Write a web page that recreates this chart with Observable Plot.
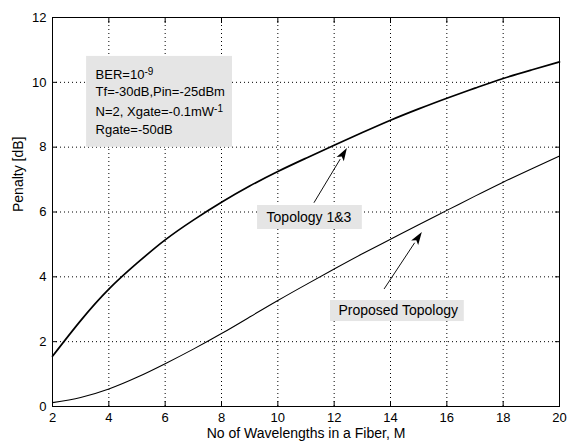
<!DOCTYPE html>
<html><head><meta charset="utf-8">
<script src="https://cdn.jsdelivr.net/npm/d3@7"></script>
<script src="https://cdn.jsdelivr.net/npm/@observablehq/plot@0.6"></script>
<style>
body{margin:0;background:#fff;}
#chart svg{font-family:"Liberation Sans",Arial,Helvetica,sans-serif;background:#fff;}
</style>
</head><body><div id="chart"></div>
<script>
// ---- data ----
const M = [2,3,4,5,6,7,8,9,10,11,12,13,14,15,16,17,18,19,20];
const topology13 = [1.55,2.65,3.62,4.42,5.14,5.75,6.3,6.8,7.25,7.66,8.06,8.45,8.83,9.18,9.51,9.82,10.12,10.38,10.63];
const proposed  = [0.12,0.28,0.54,0.9,1.32,1.77,2.25,2.76,3.27,3.76,4.24,4.71,5.16,5.61,6.05,6.49,6.92,7.33,7.73];
const xTicks = [2,4,6,8,10,12,14,16,18,20];
const yTicks = [0,2,4,6,8,10,12];
const xLabel = "No of Wavelengths in a Fiber, M";
const yLabel = "Penalty [dB]";
const infoLines = ["BER=10^-9","Tf=-30dB,Pin=-25dBm","N=2, Xgate=-0.1mW^-1","Rgate=-50dB"];
const labelNames = ["Topology 1&3","Proposed Topology"];

// ---- annotation placement (data units) ----
const infoBox = {x1:3.21, x2:8.39, y1:8.0, y2:10.8};
const infoX = 3.53;
const infoY = [10.23, 9.71, 9.09, 8.53];
const labelBoxes = [
  {x1:9.28, x2:13.0, y1:5.46, y2:6.2, tx:9.6, ty:5.83},
  {x1:11.87, x2:16.62, y1:2.62, y2:3.27, tx:12.15, ty:2.95}
];
const arrowSpecs = [
  {x1:11.3, y1:6.27, x2:12.47, y2:7.96},
  {x1:13.79, y1:3.61, x2:15.13, y2:5.37}
];

const rowsP = M.map((m,i)=>({m, v:proposed[i]}));
const rowsT = M.map((m,i)=>({m, v:topology13[i]}));

function arrowMark(index, scales) {
  const g = d3.create("svg:g");
  for (const a of arrowSpecs) {
    const x1 = scales.x(a.x1), y1 = scales.y(a.y1), x2 = scales.x(a.x2), y2 = scales.y(a.y2);
    const ang = Math.atan2(y2 - y1, x2 - x1);
    const L = 13, W = 4.2;
    const c = Math.cos(ang), s = Math.sin(ang);
    const bx = x2 - L * c, by = y2 - L * s;
    g.append("line").attr("x1", x1).attr("y1", y1).attr("x2", bx).attr("y2", by)
      .attr("stroke", "#111").attr("stroke-width", 1);
    g.append("path")
      .attr("d", `M${x2},${y2}L${bx - W * s},${by + W * c}L${bx + 3 * c},${by + 3 * s}L${bx + W * s},${by - W * c}Z`)
      .attr("fill", "#000");
  }
  return g.node();
}

const fontTick = 13;
const chart = Plot.plot({
  width: 569,
  height: 444,
  marginLeft: 52,
  marginRight: 10,
  marginTop: 17,
  marginBottom: 38,
  style: {fontFamily: '"Liberation Sans", Arial, sans-serif', fontSize: "13px", color: "#000", background: "#fff"},
  x: {domain: [2, 20], ticks: xTicks},
  y: {domain: [0, 12], ticks: yTicks},
  marks: [
    Plot.gridX(xTicks, {stroke: "#000", strokeOpacity: 1, strokeWidth: 1, strokeDasharray: "1,3"}),
    Plot.gridY(yTicks, {stroke: "#000", strokeOpacity: 1, strokeWidth: 1, strokeDasharray: "1,3"}),
    Plot.rect([infoBox], {x1: "x1", x2: "x2", y1: "y1", y2: "y2", fill: "#e5e5e5"}),
    Plot.rect(labelBoxes, {x1: "x1", x2: "x2", y1: "y1", y2: "y2", fill: "#e5e5e5"}),
    Plot.line(rowsT, {x: "m", y: "v", stroke: "#000", strokeWidth: 1.7, curve: "natural"}),
    Plot.line(rowsP, {x: "m", y: "v", stroke: "#000", strokeWidth: 1.1, curve: "natural"}),
    Plot.text(infoLines, {x: () => infoX, y: (d, i) => infoY[i], text: d => d, textAnchor: "start", fontSize: 13, fill: "#000"}),
    Plot.text(labelNames, {x: (d, i) => labelBoxes[i].tx, y: (d, i) => labelBoxes[i].ty, text: d => d, textAnchor: "start", fontSize: 14, fill: "#000"}),
    arrowMark,
    Plot.frame({stroke: "#000", strokeWidth: 1}),
    // inward ticks on all four sides
    Plot.axisX(xTicks, {anchor: "bottom", tickSize: 5, dy: -5, text: null, label: null, stroke: "#000"}),
    Plot.axisX(xTicks, {anchor: "top", tickSize: 5, dy: 5, text: null, label: null, stroke: "#000"}),
    Plot.axisY(yTicks, {anchor: "left", tickSize: 5, dx: 5, text: null, label: null, stroke: "#000"}),
    Plot.axisY(yTicks, {anchor: "right", tickSize: 5, dx: -5, text: null, label: null, stroke: "#000"}),
    // tick labels
    Plot.axisX(xTicks, {anchor: "bottom", tickSize: 0, tickPadding: 6, label: null, fontSize: fontTick, fill: "#000"}),
    Plot.axisY(yTicks, {anchor: "left", tickSize: 0, tickPadding: 6, label: null, fontSize: fontTick, fill: "#000"}),
    // axis titles
    Plot.text([xLabel], {frameAnchor: "bottom", dy: 31, text: d => d, fontSize: 14, fill: "#000"}),
    Plot.text([yLabel], {frameAnchor: "left", dx: -34, rotate: -90, text: d => d, fontSize: 14, fill: "#000"})
  ]
});

// superscripts
d3.select(chart).selectAll("text").each(function() {
  const t = this.textContent;
  if (t.includes("^")) {
    const [base, sup] = t.split("^");
    const el = d3.select(this);
    el.text(null);
    el.append("tspan").text(base);
    el.append("tspan").attr("dy", "-0.45em").attr("font-size", "10px").text(sup);
  }
});
document.getElementById("chart").appendChild(chart);
</script>
</body></html>
